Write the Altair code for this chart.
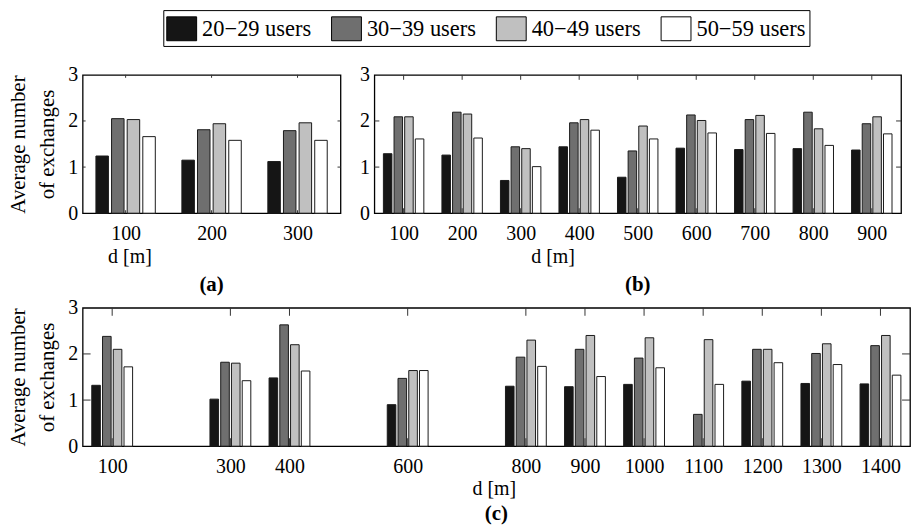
import altair as alt
import pandas as pd

# Series (user-count groups) and their fill colours
series = ["20\u221229 users", "30\u221239 users", "40\u221249 users", "50\u221259 users"]
colors = ["#151515", "#6f6f6f", "#c0c0c0", "#ffffff"]

# Panel (a): distances and average number of exchanges per series
d_a = [100, 200, 300]
a_20 = [1.24, 1.15, 1.12]
a_30 = [2.05, 1.81, 1.79]
a_40 = [2.03, 1.94, 1.96]
a_50 = [1.66, 1.58, 1.58]

# Panel (b)
d_b = [100, 200, 300, 400, 500, 600, 700, 800, 900]
b_20 = [1.29, 1.26, 0.71, 1.44, 0.78, 1.41, 1.38, 1.40, 1.37]
b_30 = [2.09, 2.19, 1.44, 1.96, 1.35, 2.13, 2.03, 2.19, 1.94]
b_40 = [2.09, 2.15, 1.40, 2.03, 1.89, 2.01, 2.12, 1.83, 2.09]
b_50 = [1.61, 1.63, 1.01, 1.80, 1.61, 1.74, 1.73, 1.47, 1.72]

# Panel (c)
d_c = [100, 300, 400, 600, 800, 900, 1000, 1100, 1200, 1300, 1400]
c_20 = [1.32, 1.02, 1.48, 0.90, 1.30, 1.29, 1.34, 0.00, 1.41, 1.36, 1.35]
c_30 = [2.38, 1.82, 2.63, 1.47, 1.93, 2.10, 1.91, 0.69, 2.10, 2.01, 2.18]
c_40 = [2.10, 1.80, 2.20, 1.64, 2.30, 2.40, 2.35, 2.31, 2.10, 2.22, 2.40]
c_50 = [1.72, 1.42, 1.63, 1.64, 1.73, 1.51, 1.70, 1.34, 1.81, 1.77, 1.54]

y_ticks = [0, 1, 2, 3]
FONT = "Liberation Serif"
SLOT = 100 / 5.5          # width of one series slot inside a group (in metres)
H = 139

legend = alt.Legend(
    title=None, orient="none", legendX=81, legendY=-65,
    direction="horizontal", columns=4, columnPadding=17.5,
    symbolType="M-1,-0.8L1,-0.8L1,0.8L-1,0.8Z", symbolSize=900,
    symbolStrokeColor="black", symbolStrokeWidth=1, symbolOpacity=1,
    labelFont=FONT, labelFontSize=22.5, labelOffset=5, labelColor="black",
    strokeColor="black", padding=3, fillColor="white",
)


def bar_frame(dvals, cols):
    rows = []
    for k, (s, vals) in enumerate(zip(series, cols)):
        for d, v in zip(dvals, vals):
            centre = d + (k - 1.5) * SLOT
            rows.append({"series": s, "d": d, "v": v,
                         "x0": centre - 0.4 * SLOT, "x1": centre + 0.4 * SLOT})
    return pd.DataFrame(rows)


def panel(dvals, cols, width, tick_len, show_ytitle, xtitle_x, tag, tag_offset):
    dom = [dvals[0] - 50, dvals[-1] + 50] if tag != "(c)" else [50, 1450]
    xscale = alt.Scale(domain=dom, nice=False, zero=False)
    yscale = alt.Scale(domain=[0, 3], nice=False)
    xaxis = alt.Axis(values=dvals, ticks=False, domain=False, grid=False,
                     labelFontSize=20, labelPadding=10, labelColor="black",
                     labelFont=FONT, format="d", labelFlush=False,
                     title="d [m]", titleFont=FONT, titleFontSize=20,
                     titleFontWeight="normal", titleColor="black",
                     titlePadding=3, titleX=xtitle_x)
    yaxis = alt.Axis(values=y_ticks, ticks=False, domain=False, grid=False,
                     labelFontSize=20, labelPadding=5, labelColor="black",
                     labelFont=FONT,
                     title=["Average number", "of exchanges"] if show_ytitle else None,
                     titleFont=FONT, titleFontSize=21, titleFontWeight="normal",
                     titleColor="black", titleLineHeight=29, titlePadding=10)

    bars = alt.Chart(bar_frame(dvals, cols)).transform_filter(
        "datum.v > 0"
    ).mark_bar(stroke="#1a1a1a", strokeWidth=1).encode(
        x=alt.X("x0:Q", scale=xscale, axis=xaxis),
        x2="x1:Q",
        y=alt.Y("v:Q", scale=yscale, axis=yaxis),
        y2=alt.datum(0),
        color=alt.Color("series:N", scale=alt.Scale(domain=series, range=colors),
                        legend=legend),
    )

    xt = pd.DataFrame({"d": dvals})
    yt = pd.DataFrame({"y": y_ticks[1:-1]})
    tick_style = dict(color="#333333", strokeWidth=1)
    top_ticks = alt.Chart(xt).mark_rule(**tick_style).encode(
        x=alt.X("d:Q", scale=xscale), y=alt.value(0), y2=alt.value(tick_len))
    bottom_ticks = alt.Chart(xt).mark_rule(**tick_style).encode(
        x=alt.X("d:Q", scale=xscale), y=alt.value(H), y2=alt.value(H - tick_len))
    left_ticks = alt.Chart(yt).mark_rule(**tick_style).encode(
        y=alt.Y("y:Q", scale=yscale), x=alt.value(0), x2=alt.value(tick_len))
    right_ticks = alt.Chart(yt).mark_rule(**tick_style).encode(
        y=alt.Y("y:Q", scale=yscale), x=alt.value(width), x2=alt.value(width - tick_len))

    return alt.layer(bars, bottom_ticks, top_ticks, left_ticks, right_ticks).properties(
        width=width, height=H,
        title=alt.TitleParams(tag, orient="bottom", font=FONT, fontSize=21,
                              fontWeight="bold", color="black", frame="group",
                              anchor="middle", offset=tag_offset),
    )


pa = panel(d_a, [a_20, a_30, a_40, a_50], 259, 3, True, 47, "(a)", 8)
pb = panel(d_b, [b_20, b_30, b_40, b_50], 529, 5, False, 179, "(b)", 8)
pc = panel(d_c, [c_20, c_30, c_40, c_50], 831, 8, True, 413, "(c)", 4)

chart = alt.vconcat(
    alt.hconcat(pa, pb, spacing=16), pc, spacing=1
).properties(
    padding={"left": 7, "top": 8, "right": 1, "bottom": 0},
    background="white",
).configure(
    font=FONT
).configure_view(
    stroke="black", strokeWidth=1.3
)

chart.save("out.html", embed_options={"renderer": "svg", "actions": False})
